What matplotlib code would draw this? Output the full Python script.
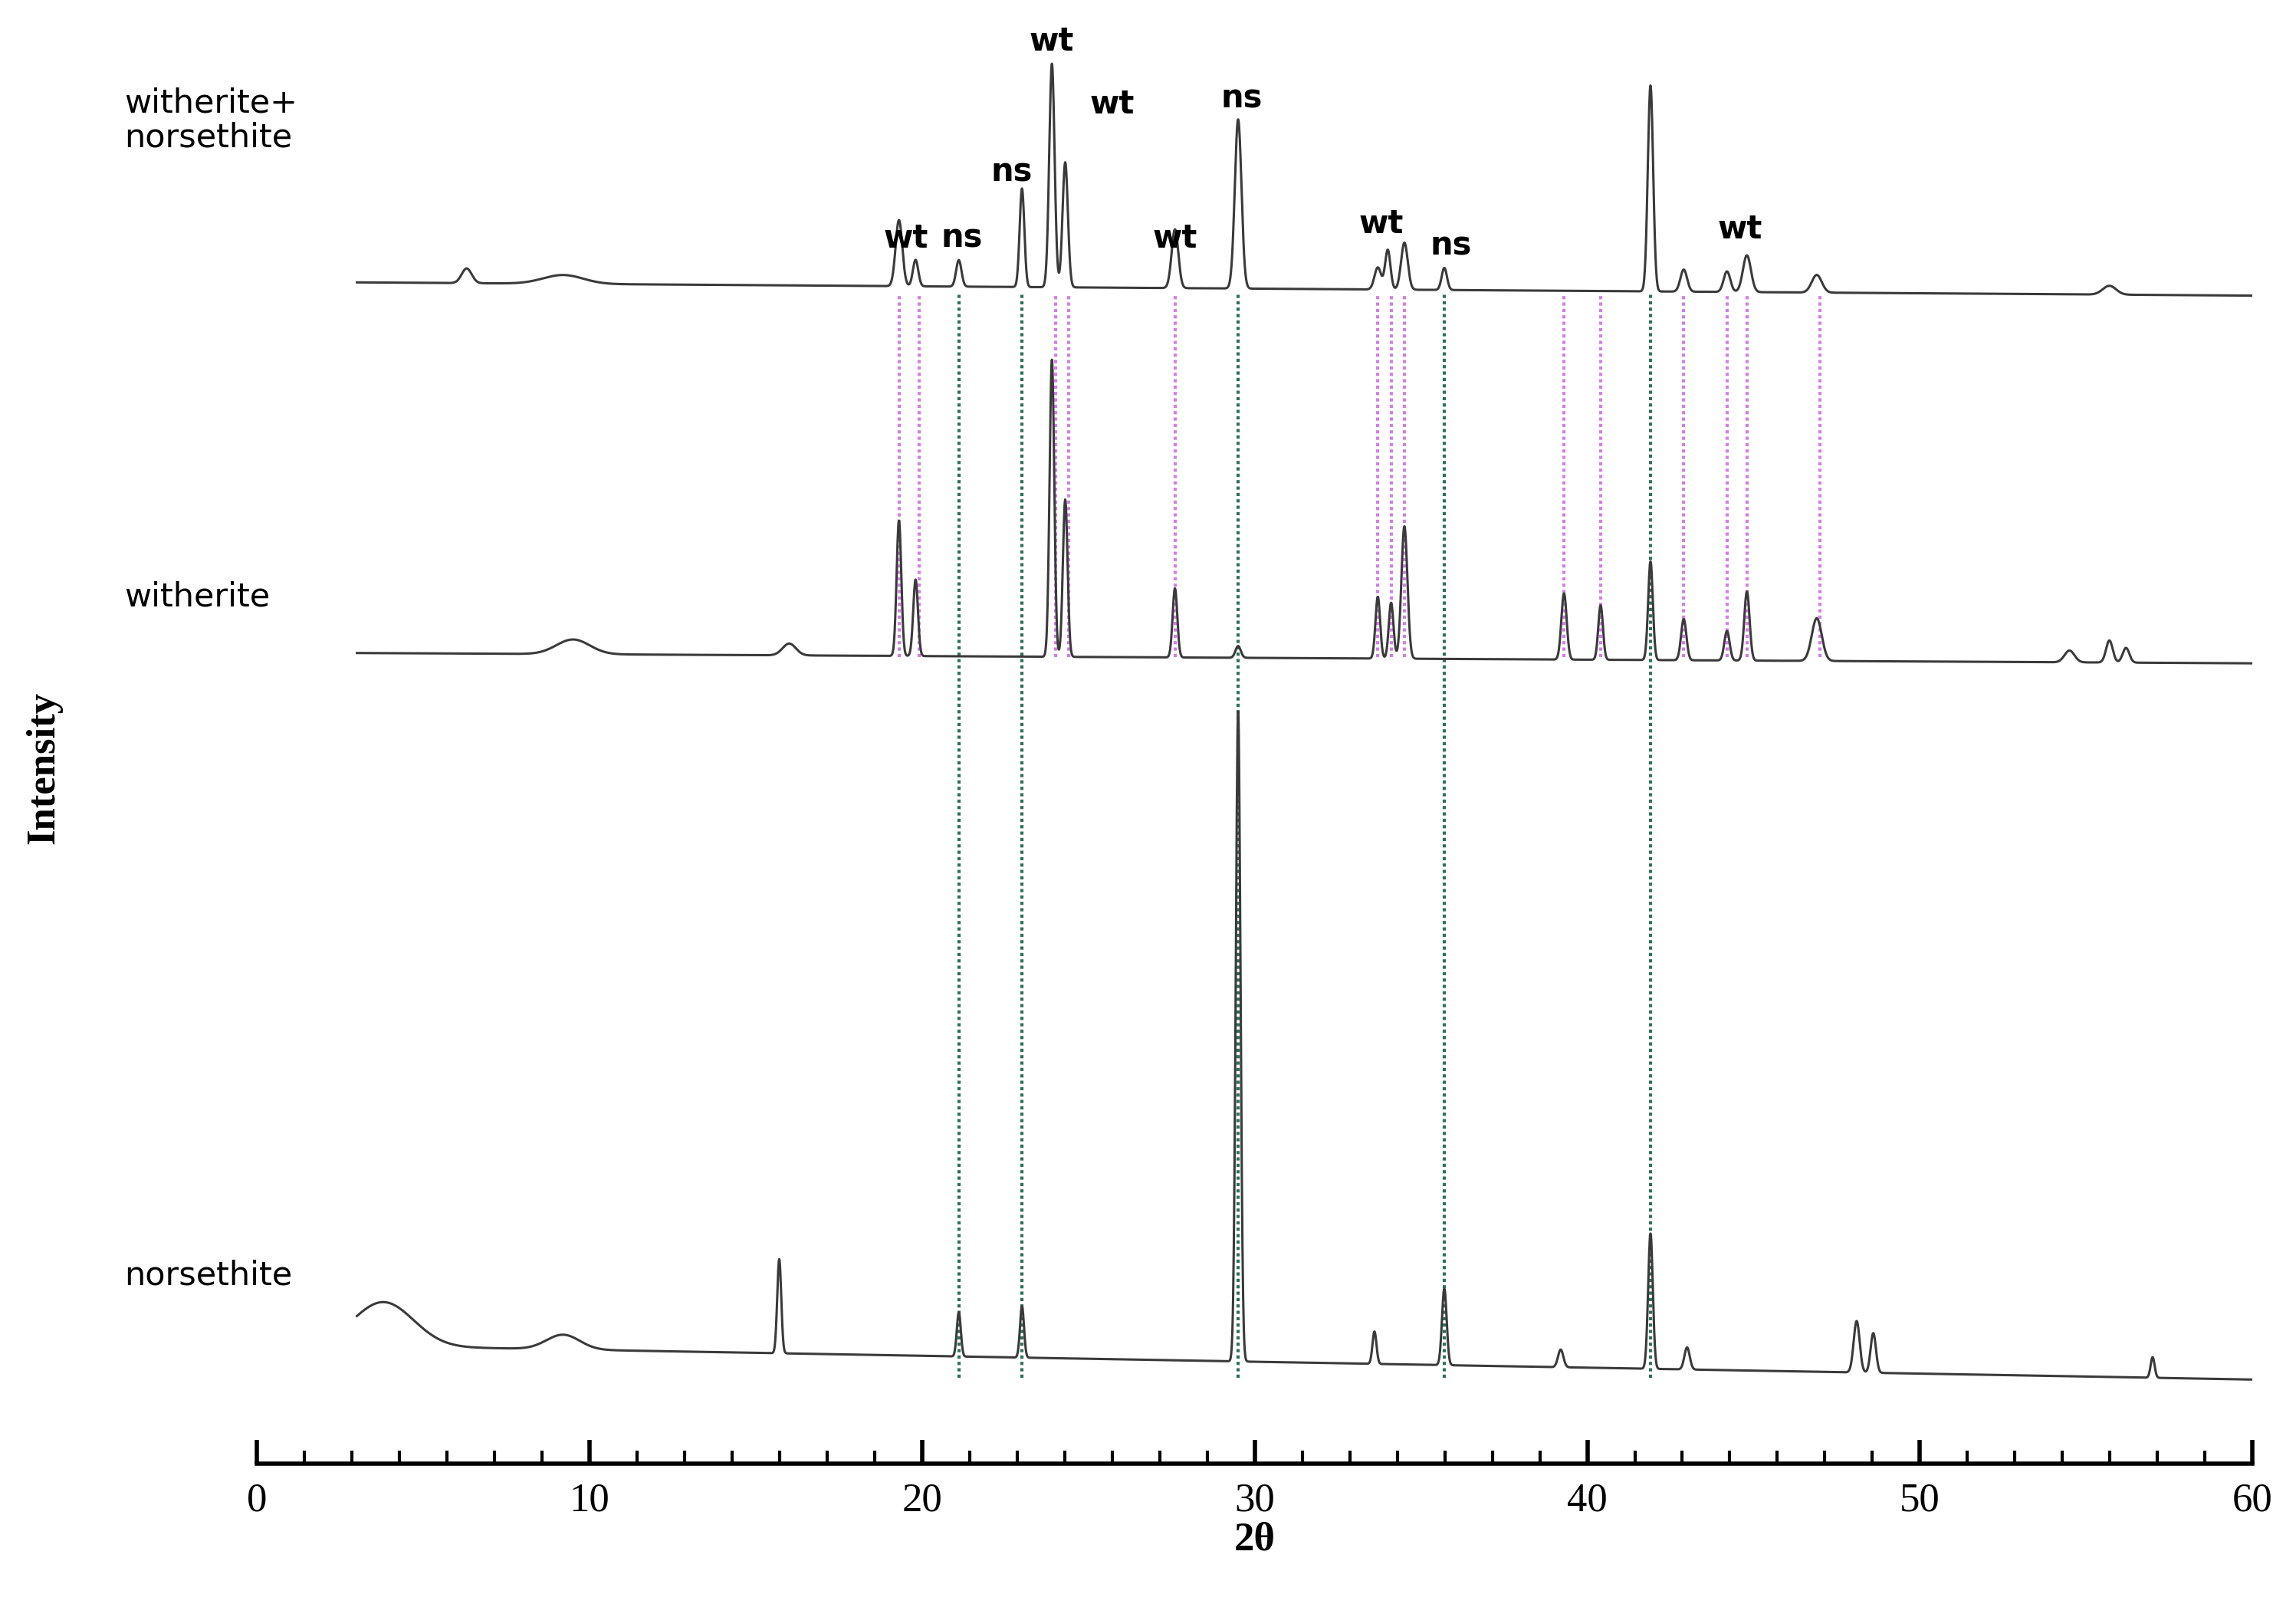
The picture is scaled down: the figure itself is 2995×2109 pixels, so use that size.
import numpy as np
import matplotlib
matplotlib.use("Agg")
import matplotlib.pyplot as plt
from matplotlib.ticker import MultipleLocator

# ---------- peak lists (2theta, height, width) ----------
# y units: 1100 - display pixel row of the reference (reference shown 1568 px wide)
top_pos = [6.3, 9.2, 19.3, 19.8, 21.1, 23.0, 23.9, 24.3, 27.6, 29.5, 33.7, 34.0, 34.5, 35.7, 41.9, 42.9, 44.2, 44.8, 46.9, 55.7]
top_h   = [10, 6, 45, 18, 18, 67, 152, 85, 40, 115, 15, 27, 32, 15, 140, 15, 14, 25, 12, 6]
top_w   = [0.15, 0.6, 0.1, 0.08, 0.08, 0.07, 0.08, 0.08, 0.1, 0.1, 0.1, 0.08, 0.1, 0.08, 0.08, 0.1, 0.1, 0.12, 0.15, 0.2]

mid_pos = [9.5, 16.0, 19.3, 19.8, 23.9, 24.3, 27.6, 29.5, 33.7, 34.1, 34.5, 39.3, 40.4, 41.9, 42.9, 44.2, 44.8, 46.9, 54.5, 55.7, 56.2]
mid_h   = [10, 8, 92, 52, 202, 107, 47, 8, 42, 38, 90, 45, 37, 67, 28, 20, 47, 29, 8, 15, 10]
mid_w   = [0.5, 0.2, 0.07, 0.07, 0.07, 0.07, 0.07, 0.08, 0.07, 0.07, 0.09, 0.08, 0.07, 0.07, 0.08, 0.08, 0.08, 0.15, 0.15, 0.1, 0.1]

bot_pos = [3.8, 9.2, 15.7, 21.1, 23.0, 29.5, 33.6, 35.7, 39.2, 41.9, 43.0, 48.1, 48.6, 57.0]
bot_h   = [30, 10, 64, 30, 35, 442, 22, 52, 12, 92, 15, 35, 27, 14]
bot_w   = [0.9, 0.5, 0.06, 0.06, 0.06, 0.07, 0.06, 0.07, 0.08, 0.07, 0.08, 0.09, 0.08, 0.06]

# baselines (start, end) at 2theta = 3 and 60
top_base = (908, 899)
mid_base = (656, 649)
bot_base = (185, 162)

magenta_lines = [19.3, 19.9, 24.0, 24.4, 27.6, 33.7, 34.1, 34.5, 39.3, 40.4, 42.9, 44.2, 44.8, 47.0]
green_lines = [21.1, 23.0, 29.5, 35.7, 41.9]

labels = ["wt", "ns", "ns", "wt", "wt", "wt", "ns", "wt", "ns", "wt"]
label_x = [19.5, 21.2, 22.7, 23.9, 25.7, 27.6, 29.6, 33.8, 35.9, 44.6]
label_y = [938, 938, 983, 1072, 1029, 938, 1033, 948, 933, 944]

names = ["witherite+\nnorsethite", "witherite", "norsethite"]
name_y = [1018, 694, 233]

x = np.arange(3.0, 60.0, 0.01)


def pattern(base, pos, h, w):
    y = base[0] + (base[1] - base[0]) * (x - 3) / 57
    for p, a, s in zip(pos, h, w):
        y = y + a * np.exp(-0.5 * ((x - p) / s) ** 2)
    return y


fig = plt.figure(figsize=(29.95, 21.09), dpi=100)
ax = fig.add_axes([0.112, 0.095, 0.869, 0.905])
ax.set_xlim(0, 60)
ax.set_ylim(105, 1100)

for lx in magenta_lines:
    ax.plot([lx, lx], [653, 900], color="#d27ee6", lw=3, ls=(0, (1, 1)))
for lx in green_lines:
    ax.plot([lx, lx], [163, 900], color="#2f6f5a", lw=3, ls=(0, (1, 1)))

for base, pos, h, w in [(top_base, top_pos, top_h, top_w),
                        (mid_base, mid_pos, mid_h, mid_w),
                        (bot_base, bot_pos, bot_h, bot_w)]:
    ax.plot(x, pattern(base, pos, h, w), color="#3a3a3a", lw=2.2)

for t, lx, ly in zip(labels, label_x, label_y):
    ax.text(lx, ly, t, ha="center", va="center", fontsize=30, fontweight="bold")

for n, ny in zip(names, name_y):
    ax.text(-4, ny, n, ha="left", va="center", fontsize=31, linespacing=1.1)

for s in ["top", "left", "right"]:
    ax.spines[s].set_visible(False)
ax.spines["bottom"].set_linewidth(4)
ax.set_yticks([])
ax.xaxis.set_major_locator(MultipleLocator(10))
ax.xaxis.set_minor_locator(MultipleLocator(10 / 7))
ax.tick_params(axis="x", which="major", direction="in", length=22, width=4, pad=18, labelsize=38)
ax.tick_params(axis="x", which="minor", direction="in", length=12, width=3)
for lab in ax.get_xticklabels():
    lab.set_fontfamily("Liberation Serif")
ax.set_xlabel("2θ", fontsize=38, fontweight="bold", family="Liberation Serif", labelpad=2)
fig.text(0.019, 0.525, "Intensity", rotation=90, ha="center", va="center",
         fontsize=38, fontweight="bold", family="Liberation Serif")

fig.savefig("out.png", dpi=100)
